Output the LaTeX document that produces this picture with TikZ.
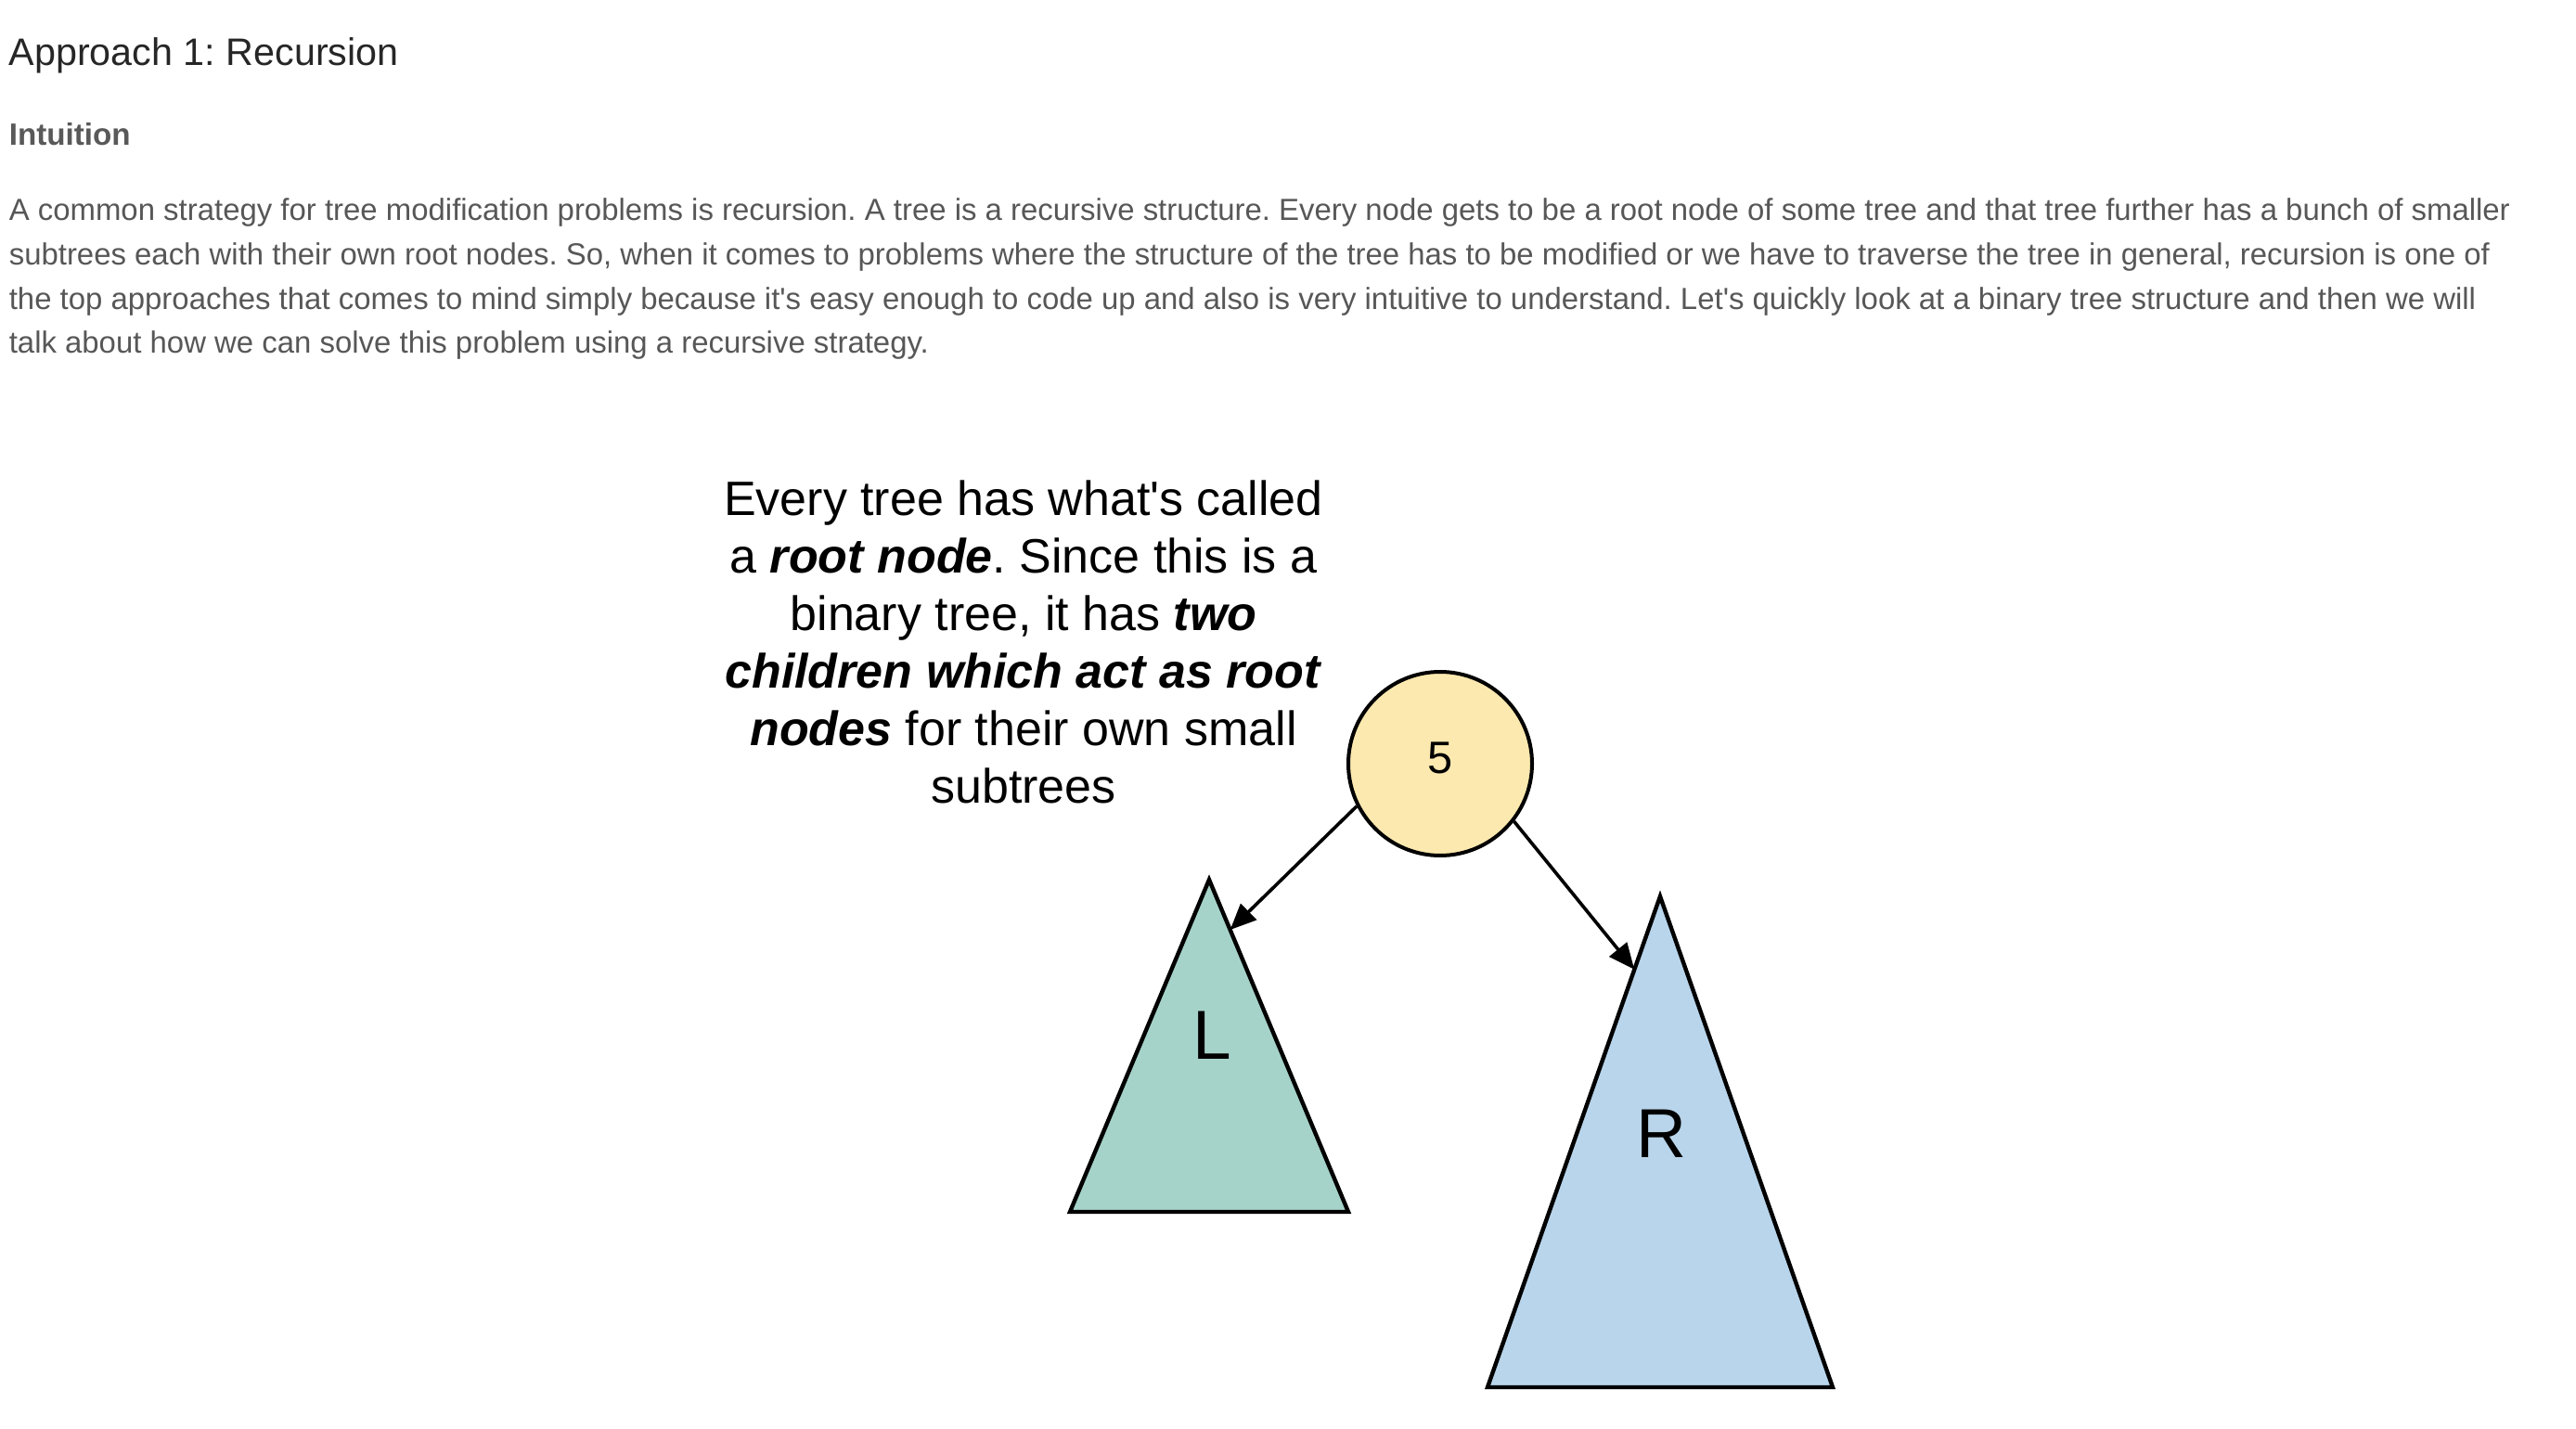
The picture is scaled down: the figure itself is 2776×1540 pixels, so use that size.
\documentclass[tikz,border=0pt]{standalone}
\usepackage{fontspec}
\setmainfont{Liberation Sans}
\usetikzlibrary{arrows.meta,calc}
\definecolor{headc}{HTML}{262626}
\definecolor{subc}{HTML}{595959}
\definecolor{parac}{HTML}{575757}
\definecolor{rootfill}{HTML}{FCE9AF}
\definecolor{lfill}{HTML}{A6D3C9}
\definecolor{rfill}{HTML}{B9D5EB}
\newcommand{\bi}[1]{\textbf{\textit{#1}}}
\begin{document}
\frenchspacing
\begin{tikzpicture}[x=0.25pt,y=-0.25pt,
  heading/.style={anchor=base west,inner sep=0pt,text=headc,font=\fontsize{10.32pt}{12pt}\selectfont},
  subheading/.style={anchor=base west,inner sep=0pt,text=subc,font=\fontsize{8.3pt}{10pt}\selectfont\bfseries},
  para/.style={anchor=north west,inner sep=0pt,align=left,text=parac,font=\fontsize{8.23pt}{11.93pt}\selectfont},
  callout/.style={anchor=north,inner sep=0pt,align=center,text=black,font=\fontsize{13pt}{15.5pt}\selectfont},
  rootnode/.style={circle,draw=black,line width=1pt,fill=rootfill,minimum size=49.5pt,inner sep=0pt,text height=8.7pt,text depth=3.5pt,font=\fontsize{12.2pt}{14pt}\selectfont},
  subtree/.style={draw=black,line width=1.1pt,line join=miter},
  treelabel/.style={inner sep=0pt,font=\fontsize{18.7pt}{22pt}\selectfont},
  link/.style={draw=black,line width=0.9pt,-{Triangle[length=7pt,width=6pt]}}]
\useasboundingbox[fill=white] (0,0) rectangle (2776,1540);

\node[heading] (title) at (9,71) {Approach 1: Recursion};
\node[subheading] (intuition) at (9,157) {Intuition};
\node[para] (paragraph) at (9,213) {A common strategy for tree modification problems is recursion. A tree is a recursive structure. Every node gets to be a root node of some tree and that tree further has a bunch of smaller\\
subtrees each with their own root nodes. So, when it comes to problems where the structure of the tree has to be modified or we have to traverse the tree in general, recursion is one of\\
the top approaches that comes to mind simply because it\textquotesingle s easy enough to code up and also is very intuitive to understand. Let\textquotesingle s quickly look at a binary tree structure and then we will\\
talk about how we can solve this problem using a recursive strategy.};

\node[callout] (note) at (1103,517) {Every tree has what\textquotesingle s called\\
a \bi{root node}. Since this is a\\
binary tree, it has \bi{two}\\
\bi{children which act as root}\\
\bi{nodes} for their own small\\
subtrees};

\coordinate (Ltop) at (1303,948);
\coordinate (Lbl) at (1153,1306);
\coordinate (Lbr) at (1453,1306);
\coordinate (Rtop) at (1789,966);
\coordinate (Rbl) at (1603,1495);
\coordinate (Rbr) at (1975,1495);

\filldraw[subtree,fill=lfill] (Ltop) -- (Lbl) -- (Lbr) -- cycle;
\filldraw[subtree,fill=rfill] (Rtop) -- (Rbl) -- (Rbr) -- cycle;

\node[treelabel] (Llabel) at (1306,1116) {L};
\node[treelabel] (Rlabel) at (1790,1222) {R};

\node[rootnode] (root) at (1552,823) {5};

\coordinate (Ltip) at ($(Ltop)!0.151!(Lbr)$);
\coordinate (Rtip) at ($(Rtop)!0.149!(Rbl)$);

\draw[link] (root.207.6) -- (Ltip);
\draw[link] (root.322) -- (Rtip);
\end{tikzpicture}
\end{document}
